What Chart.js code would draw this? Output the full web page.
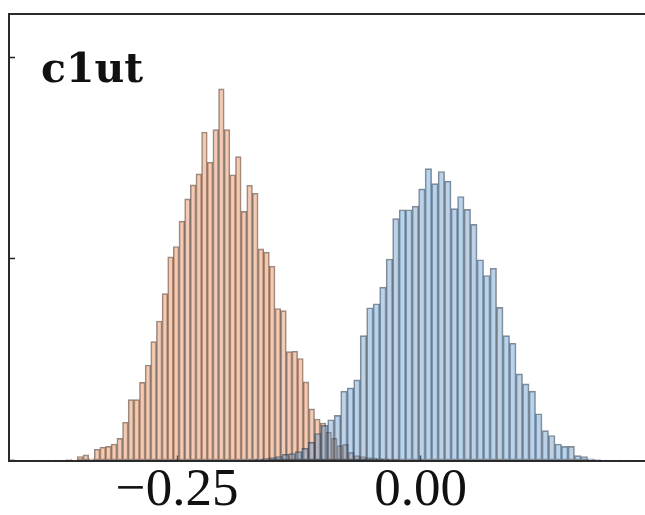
<!DOCTYPE html>
<html>
<head>
<meta charset="utf-8">
<script src="https://cdn.jsdelivr.net/npm/chart.js@4.4.1/dist/chart.umd.min.js"></script>
<style>
  html, body { margin: 0; padding: 0; overflow: hidden; background: #fff; }
  canvas { display: block; }
</style>
</head>
<body>
<canvas id="grafico" width="680" height="515" style="width:680px;height:515px"></canvas>
<script>
// Histograma naranja (distribución de la izquierda)
const naranjaInicio = -0.3931;
const naranjaAncho = 0.0058;
const alturasNaranja = [
  0.01, 0, 0.01, 0.01, 0, 0.02, 0.01,
  0.10, 0.14, 0.04, 0.28, 0.33, 0.35, 0.41, 0.55, 0.95, 1.51,
  1.51, 1.94, 2.37, 2.95, 3.46, 4.14, 5.05, 5.31, 5.94, 6.49,
  6.84, 7.11, 8.15, 7.40, 8.21, 9.22, 8.21, 7.09, 7.54, 6.18,
  6.83, 6.63, 5.25, 5.17, 4.82, 3.77, 3.72, 2.70, 2.71, 2.53,
  1.95, 1.28, 1.03, 0.93, 0.70, 0.55, 0.37, 0.40, 0.20, 0.12,
  0.10, 0.07, 0.06, 0.05, 0.04, 0.02, 0.02, 0.01, 0.01
];

// Histograma azul (distribución de la derecha)
const azulInicio = -0.1821;
const azulAncho = 0.00667;
const alturasAzul = [
  0.01, 0.02, 0.03, 0.05, 0.07, 0.10, 0.15, 0.17, 0.22, 0.30,
  0.45, 0.67, 0.87, 1.01, 1.12, 1.72, 1.80, 2.00, 3.10, 3.79,
  3.89, 4.30, 5.00, 6.00, 6.22, 6.22, 6.31, 6.74, 7.24, 6.87,
  7.17, 6.93, 6.25, 6.55, 6.23, 5.86, 4.98, 4.59, 4.77, 3.80,
  3.10, 2.91, 2.15, 1.90, 1.72, 1.16, 0.74, 0.62, 0.41, 0.35,
  0.35, 0.12, 0.10, 0.04, 0.02, 0.01, 0.01, 0.01, 0.01
];

// Ejes
const ticksX = [-0.25, 0.0];
const etiquetasX = ['\u22120.25', '0.00'];
const ticksY = [0, 5, 10];
const limitesX = [-0.4227, 0.25];
const limitesY = [0, 11.09];
const tituloPanel = 'c1ut';

// convierte alturas de un histograma en puntos {x, y} usando el centro de cada bin
function puntosHistograma(inicio, ancho, alturas) {
  return alturas.map((y, i) => ({ x: inicio + (i + 0.5) * ancho, y: y }));
}

const colorBorde = '#2a2a2a';

const pluginTitulo = {
  id: 'tituloPanel',
  afterDraw(chart) {
    const { ctx, chartArea } = chart;
    ctx.save();
    ctx.font = 'bold 41px "DejaVu Serif"';
    ctx.fillStyle = '#111';
    ctx.textBaseline = 'alphabetic';
    ctx.fillText(tituloPanel, chartArea.left + 32, chartArea.top + 68);
    ctx.restore();
  }
};

const ctx = document.getElementById('grafico').getContext('2d');
new Chart(ctx, {
  type: 'bar',
  data: {
    datasets: [
      {
        label: 'azul',
        data: puntosHistograma(azulInicio, azulAncho, alturasAzul),
        xAxisID: 'xAzul',
        backgroundColor: 'rgba(90, 150, 205, 0.42)',
        borderColor: 'rgba(35, 45, 60, 0.55)',
        borderWidth: 1,
        borderSkipped: false,
        barPercentage: 1,
        categoryPercentage: 1,
        grouped: false
      },
      {
        label: 'naranja',
        data: puntosHistograma(naranjaInicio, naranjaAncho, alturasNaranja),
        xAxisID: 'x',
        backgroundColor: 'rgba(228, 140, 88, 0.45)',
        borderColor: 'rgba(60, 40, 30, 0.55)',
        borderWidth: 1,
        borderSkipped: false,
        barPercentage: 1,
        categoryPercentage: 1,
        grouped: false
      }
    ]
  },
  options: {
    responsive: false,
    animation: false,
    layout: { padding: { right: 16 } },
    plugins: {
      legend: { display: false },
      tooltip: { enabled: false }
    },
    scales: {
      x: {
        type: 'linear',
        position: 'bottom',
        z: 1,
        min: limitesX[0],
        max: limitesX[1],
        offset: false,
        afterBuildTicks: (eje) => { eje.ticks = ticksX.map(v => ({ value: v })); },
        ticks: {
          callback: (v, i) => etiquetasX[i],
          font: { family: 'Liberation Serif', size: 53 },
          color: '#111',
          padding: 4,
          maxRotation: 0,
          autoSkip: false
        },
        grid: { offset: false, drawOnChartArea: false, tickLength: -5, tickColor: '#222', tickWidth: 1.5 },
        border: { color: colorBorde, width: 2 },
        afterFit: (eje) => { eje.height = 54.5; }
      },
      xAzul: {
        type: 'linear',
        display: false,
        min: limitesX[0],
        max: limitesX[1],
        offset: false,
        grid: { display: false },
        ticks: { display: false },
        border: { display: false }
      },
      xArriba: {
        type: 'linear',
        position: 'top',
        min: limitesX[0],
        max: limitesX[1],
        ticks: { display: false },
        grid: { display: false },
        border: { color: colorBorde, width: 2 },
        afterFit: (eje) => { eje.height = 13.5; }
      },
      y: {
        z: 1,
        min: limitesY[0],
        max: limitesY[1],
        afterBuildTicks: (eje) => { eje.ticks = ticksY.map(v => ({ value: v })); },
        ticks: { display: false },
        grid: { drawOnChartArea: false, tickLength: -6, tickColor: '#222', tickWidth: 1.5 },
        border: { color: colorBorde, width: 2 },
        afterFit: (eje) => { eje.width = 9; }
      }
    }
  },
  plugins: [pluginTitulo]
});
</script>
</body>
</html>
